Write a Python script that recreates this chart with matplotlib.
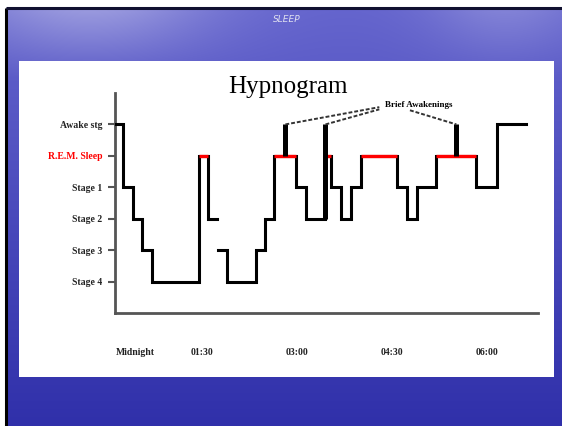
import numpy as np
import matplotlib
matplotlib.use("Agg")
import matplotlib.pyplot as plt
from matplotlib.patches import Rectangle

# ---------------- data ----------------
stage_levels = [1, 2, 3, 4, 5, 6]
stage_labels = ["Stage 4", "Stage 3", "Stage 2", "Stage 1", "R.E.M. Sleep", "Awake stg"]
REM = 5
AWAKE = 6

# segment A (minutes after midnight, stage level held until next time)
seg_a_times = [8, 15, 25, 33, 43, 87, 96, 104]
seg_a_levels = [6, 4, 3, 2, 1, 5, 3]
# segment B
seg_b_times = [105, 114, 141, 150, 158, 179, 189, 207, 212, 222, 231, 241,
               275, 284, 294, 312, 350, 369, 397]
seg_b_levels = [2, 1, 2, 3, 5, 4, 3, 5, 4, 3, 4, 5, 4, 3, 4, 5, 4, 6]

# brief awakenings
spike_times = [169, 207, 331]
spike_base = [5, 3, 5]

tick_pos = [26.5, 90, 180, 270, 360]
tick_labels = ["Midnight", "01:30", "03:00", "04:30", "06:00"]

# ---------------- figure ----------------
W, H = 562, 426
fig = plt.figure(figsize=(W / 100, H / 100), dpi=100)
fig.patch.set_facecolor("white")

bg = fig.add_axes([0, 0, 1, 1])
bg.set_xlim(0, W)
bg.set_ylim(H, 0)
bg.axis("off")

# blue slide background (smooth gradient)
yy, xx = np.mgrid[0:1:200j, 0:1:300j]
top = np.array([100, 100, 205]) / 255
bot = np.array([48, 48, 170]) / 255
img = top[None, None, :] * (1 - yy[..., None]) + bot[None, None, :] * yy[..., None]
light = np.clip(1 - yy * 6, 0, 1) * (0.35 * np.exp(-((xx - 0.15) ** 2) / 0.05)
                                     + 0.2 * np.exp(-((xx - 0.9) ** 2) / 0.02))
img = img + (1 - img) * light[..., None]
img = np.clip(img, 0, 1)
bg.imshow(img, extent=(6, W, H, 8), aspect="auto", zorder=0, interpolation="bilinear")
bg.plot([6, 6], [8, H], color="black", lw=2.2, zorder=1, solid_capstyle="butt")
bg.plot([6, W], [8, 8], color="#101030", lw=2.2, zorder=1, solid_capstyle="butt")
bg.add_patch(Rectangle((19, 61), 535, 316, facecolor="white", edgecolor="none", zorder=2))
bg.text(287, 19, "SLEEP", color="#e0e0f0", fontsize=6.5, style="italic",
        ha="center", va="center", zorder=3, family="DejaVu Sans")
bg.text(288, 87, "Hypnogram", fontsize=18, family="Liberation Serif",
        ha="center", va="center", color="black", zorder=3)

# ---------------- main axes ----------------
ax = fig.add_axes([115 / W, 1 - 313 / H, (538 - 115) / W, (313 - 93) / H])
ax.patch.set_alpha(0)
ax.set_xlim(7.6, 408.3)
ax.set_ylim(0, 7)

for times, levels in [(seg_a_times, seg_a_levels), (seg_b_times, seg_b_levels)]:
    ax.step(times, levels + [levels[-1]], where="post", color="black", lw=2.2,
            solid_joinstyle="miter", zorder=3)
    for i, lv in enumerate(levels):
        if lv == REM:
            ax.hlines(REM, times[i], times[i + 1], color="#ff0000", lw=2.4, zorder=4)

ax.vlines(spike_times, spike_base, AWAKE, color="black", lw=3.6, zorder=5)

# annotation
ann_x, ann_y = 295.6, 6.62
ax.text(ann_x, ann_y, "Brief Awakenings", fontsize=6.5, fontweight="bold",
        family="Liberation Serif", ha="center", va="center", clip_on=False, zorder=6)
dash = dict(color="#333333", lw=1.4, linestyle=(0, (2, 1)), clip_on=False, zorder=6)
ax.plot([spike_times[0], 258], [AWAKE, 6.55], **dash)
ax.plot([spike_times[1], 258], [AWAKE, 6.48], **dash)
ax.plot([287, spike_times[2]], [6.45, AWAKE], **dash)

# spines / ticks
for s in ["top", "right"]:
    ax.spines[s].set_visible(False)
for s in ["left", "bottom"]:
    ax.spines[s].set_color("#555555")
    ax.spines[s].set_linewidth(2.0)

ax.set_yticks(stage_levels)
ax.set_yticklabels(stage_labels, fontsize=7, fontweight="bold", family="Liberation Serif")
ax.tick_params(axis="y", length=5, width=1.5, color="#555555", pad=4)
for lbl in ax.get_yticklabels():
    if lbl.get_text().startswith("R.E.M"):
        lbl.set_color("#ff0000")
    else:
        lbl.set_color("#222222")

ax.set_xticks(tick_pos)
ax.set_xticklabels(tick_labels, fontsize=7, fontweight="bold", family="Liberation Serif",
                   color="#222222")
ax.tick_params(axis="x", length=0, pad=25)

fig.savefig("out.png", dpi=100, facecolor=fig.get_facecolor())
